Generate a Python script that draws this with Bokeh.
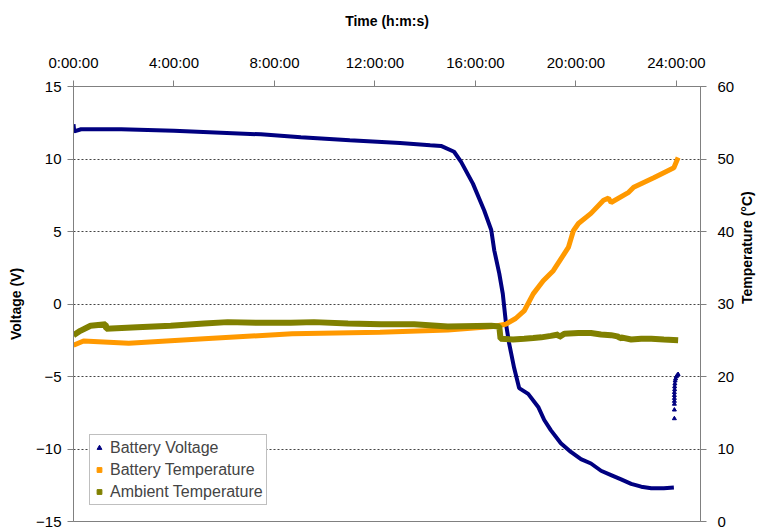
import math
from bokeh.plotting import figure
from bokeh.models import LinearAxis, Range1d, FixedTicker, Legend, LegendItem
from bokeh.embed import file_html
from bokeh.resources import INLINE

# ---- data (hours since start) ----
volt_hours = [0.0, 0.03, 0.3, 1.9, 4.0, 7.46, 9.05, 11.0, 13.0, 14.2, 14.63, 15.15, 15.43,
              15.9, 16.35, 16.63, 16.75, 16.95, 17.09, 17.22, 17.34, 17.54, 17.74, 18.1,
              18.5, 18.74, 19.0, 19.4, 19.8, 20.2, 20.6, 21.0, 21.4, 21.8, 22.2, 22.6,
              23.0, 23.5, 23.9]
volt_values = [12.4, 11.9, 12.05, 12.05, 11.95, 11.7, 11.5, 11.3, 11.1, 10.95, 10.9, 10.5, 9.8,
               8.3, 6.45, 5.1, 3.7, 2.1, 0.7, -1.4, -2.7, -4.4, -5.8, -6.2,
               -7.1, -8.0, -8.7, -9.6, -10.2, -10.7, -11.0, -11.5, -11.8, -12.1, -12.4, -12.6,
               -12.7, -12.7, -12.65]
volt_tail_hours = [23.92, 23.92, 23.92, 23.92, 23.92, 23.92, 23.92, 23.93, 23.93, 23.94,
                   23.95, 23.97, 24.0, 24.04, 24.07]
volt_tail_values = [-7.9, -7.3, -6.9, -6.7, -6.5, -6.3, -6.1, -5.9, -5.7, -5.5,
                    -5.3, -5.15, -5.0, -4.9, -4.85]

batt_temp_hours = [0.0, 0.4, 2.2, 5.2, 8.7, 12.2, 14.9, 16.7, 17.2, 17.6, 17.95, 18.3, 18.7,
                   19.1, 19.7, 19.9, 20.1, 20.6, 21.1, 21.3, 21.4, 22.1, 22.3, 23.1, 23.9, 24.07]
batt_temp_values = [24.3, 24.9, 24.6, 25.2, 25.9, 26.1, 26.4, 26.9, 27.2, 28.0, 29.1, 31.4, 33.2,
                    34.6, 37.8, 40.1, 41.1, 42.5, 44.3, 44.6, 44.0, 45.4, 46.1, 47.4, 48.8, 50.2]

amb_temp_hours = [0.0, 0.27, 0.68, 1.28, 1.3, 2.54, 3.87, 5.2, 6.14, 7.34, 8.65, 9.57, 10.93,
                  12.24, 13.56, 14.9, 16.63, 16.95, 17.0, 17.5, 17.94, 18.3, 18.62, 19.0,
                  19.3, 19.32, 19.54, 20.1, 20.6, 21.0, 21.4, 21.7, 21.72, 21.8, 22.2, 22.6,
                  23.0, 23.5, 24.07]
amb_temp_values = [25.7, 26.3, 27.0, 27.2, 26.6, 26.8, 27.0, 27.3, 27.5, 27.4, 27.4, 27.5, 27.3,
                   27.2, 27.2, 26.9, 27.0, 26.9, 25.2, 25.1, 25.2, 25.3, 25.4, 25.6,
                   25.8, 25.4, 25.9, 26.0, 26.0, 25.8, 25.7, 25.5, 25.2, 25.4, 25.1, 25.2,
                   25.2, 25.1, 25.0]

time_ticks = [0, 4, 8, 12, 16, 20, 24]
time_labels = ["0:00:00", "4:00:00", "8:00:00", "12:00:00", "16:00:00", "20:00:00", "24:00:00"]
volt_ticks = [-15, -10, -5, 0, 5, 10, 15]
temp_ticks = [0, 10, 20, 30, 40, 50, 60]

NAVY = "#000080"
ORANGE = "#FF9900"
OLIVE = "#808000"
FONT = "Liberation Sans"
AXIS_GREY = "#808080"

p = figure(width=767, height=529, x_range=Range1d(0, 24.96), y_range=Range1d(-15, 15),
           x_axis_location="above", output_backend="svg", toolbar_location=None,
           min_border_left=73, min_border_right=67, min_border_top=86, min_border_bottom=8)
p.extra_y_ranges = {"temp": Range1d(0, 60)}

p.outline_line_color = AXIS_GREY
p.background_fill_color = "white"
p.border_fill_color = "white"

# top axis
xa = p.xaxis[0]
xa.ticker = FixedTicker(ticks=time_ticks)
xa.major_label_overrides = {t: l for t, l in zip(time_ticks, time_labels)}
xa.axis_label = "Time (h:m:s)"

# left axis
ya = p.yaxis[0]
ya.ticker = FixedTicker(ticks=volt_ticks)
ya.axis_label = "Voltage (V)"

# right axis
ra = LinearAxis(y_range_name="temp", ticker=FixedTicker(ticks=temp_ticks),
                axis_label="Temperature (°C)")
p.add_layout(ra, "right")
try:
    ra.axis_label_orientation = math.pi / 2
    ra.axis_label_text_baseline = "top"
except AttributeError:
    pass

for ax in (xa, ya, ra):
    ax.axis_line_color = AXIS_GREY
    ax.major_tick_line_color = AXIS_GREY
    ax.major_tick_out = 6
    ax.major_tick_in = 0
    ax.minor_tick_line_color = None
    ax.major_label_text_font = FONT
    ax.major_label_text_font_size = "15px"
    ax.major_label_text_color = "black"
    ax.axis_label_text_font = FONT
    ax.axis_label_text_font_size = "14px"
    ax.axis_label_text_font_style = "bold"
    ax.axis_label_text_color = "black"

xa.major_label_standoff = 10
xa.axis_label_standoff = 22
ya.major_label_standoff = 6
ya.axis_label_standoff = 9
ra.major_label_standoff = 11
ra.axis_label_standoff = 10

p.xgrid.visible = False
p.ygrid.grid_line_color = "#444444"
p.ygrid.grid_line_dash = "2 2"
p.ygrid.grid_line_width = 1

# series
p.line(volt_hours, volt_values, line_color=NAVY, line_width=4)
p.line(volt_tail_hours[4:], volt_tail_values[4:], line_color=NAVY, line_width=2)
p.scatter(volt_tail_hours, volt_tail_values, marker="triangle", size=4,
          fill_color=NAVY, line_color=NAVY)
p.line(batt_temp_hours, batt_temp_values, line_color=ORANGE, line_width=5, y_range_name="temp")
p.line(amb_temp_hours, amb_temp_values, line_color=OLIVE, line_width=6, y_range_name="temp")

# legend proxies (small markers like the original)
nan = float("nan")
lv = p.scatter([nan], [nan], marker="triangle", size=5, fill_color=NAVY, line_color=NAVY)
lb = p.scatter([nan], [nan], marker="square", size=4, fill_color=ORANGE, line_color=ORANGE)
la = p.scatter([nan], [nan], marker="square", size=4, fill_color=OLIVE, line_color=OLIVE)

legend = Legend(items=[LegendItem(label="Battery Voltage", renderers=[lv]),
                       LegendItem(label="Battery Temperature", renderers=[lb]),
                       LegendItem(label="Ambient Temperature", renderers=[la])],
                location=(16, 16), padding=3, spacing=3, margin=0,
                glyph_width=12, glyph_height=19, label_height=19, label_standoff=5,
                label_text_font=FONT, label_text_font_size="16px",
                border_line_color="#808080", border_line_width=1,
                background_fill_color="white", background_fill_alpha=1)
p.add_layout(legend, "center")

open("out.html", "w").write(file_html(p, INLINE))
